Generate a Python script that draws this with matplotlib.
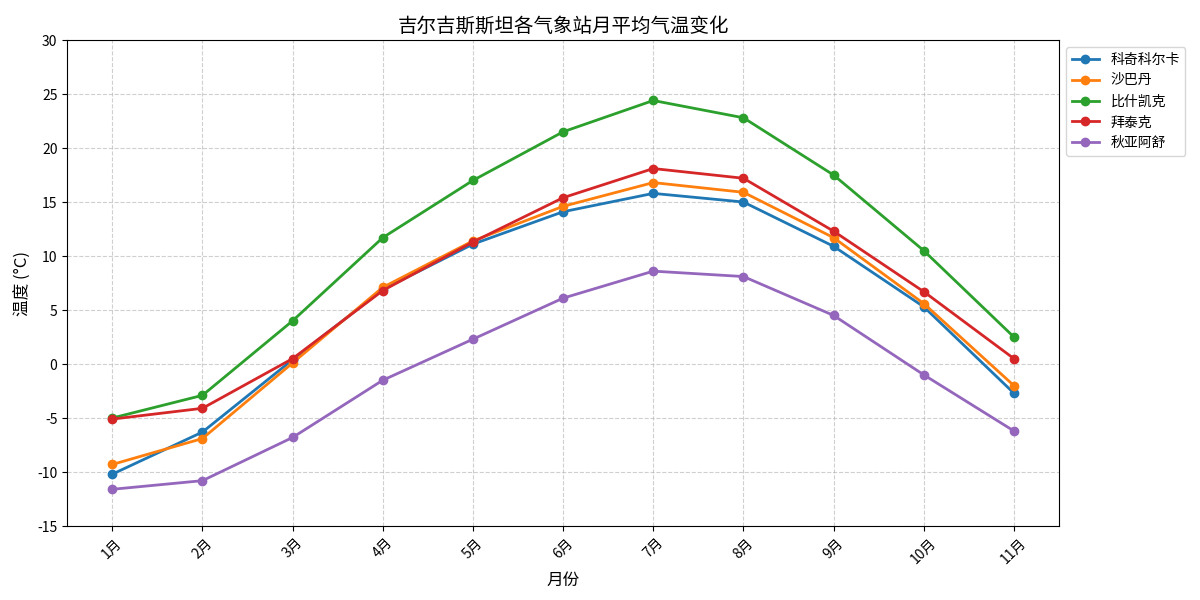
import numpy as np
import matplotlib
matplotlib.use('Agg')
import matplotlib.pyplot as plt

plt.rcParams['font.family'] = ['Noto Sans CJK SC', 'DejaVu Sans']
plt.rcParams['axes.unicode_minus'] = False

months = ['1月', '2月', '3月', '4月', '5月', '6月', '7月', '8月', '9月', '10月', '11月']

# 各站月平均气温 (°C)
karakol = [-10.2, -6.3, 0.4, 6.9, 11.1, 14.1, 15.8, 15.0, 10.9, 5.3, -2.7]
shabadan = [-9.3, -6.9, 0.1, 7.1, 11.4, 14.6, 16.8, 15.9, 11.7, 5.6, -2.0]
bishkek = [-5.0, -2.9, 4.0, 11.7, 17.0, 21.5, 24.4, 22.8, 17.5, 10.5, 2.5]
baitaik = [-5.1, -4.1, 0.5, 6.8, 11.3, 15.4, 18.1, 17.2, 12.3, 6.7, 0.5]
chuyal = [-11.6, -10.8, -6.8, -1.5, 2.3, 6.1, 8.6, 8.1, 4.5, -1.0, -6.2]

series = [
    ('科奇科尔卡', karakol),
    ('沙巴丹', shabadan),
    ('比什凯克', bishkek),
    ('拜泰克', baitaik),
    ('秋亚阿舒', chuyal),
]

fig, ax = plt.subplots(figsize=(12, 6), dpi=100)

for name, vals in series:
    ax.plot(months, vals, marker='o', linewidth=2, label=name)

ax.set_title('吉尔吉斯斯坦各气象站月平均气温变化', fontsize=14)
ax.set_xlabel('月份', fontsize=12)
ax.set_ylabel('温度 (°C)', fontsize=12)
ax.set_ylim(-15, 30)
ax.set_yticks(np.arange(-15, 31, 5))
ax.grid(True, linestyle='--', alpha=0.6)
plt.xticks(rotation=45)
ax.legend(loc='upper left', bbox_to_anchor=(1, 1))
fig.subplots_adjust(left=0.056, right=0.8825, top=0.9333, bottom=0.1233)
plt.savefig('out.png')
